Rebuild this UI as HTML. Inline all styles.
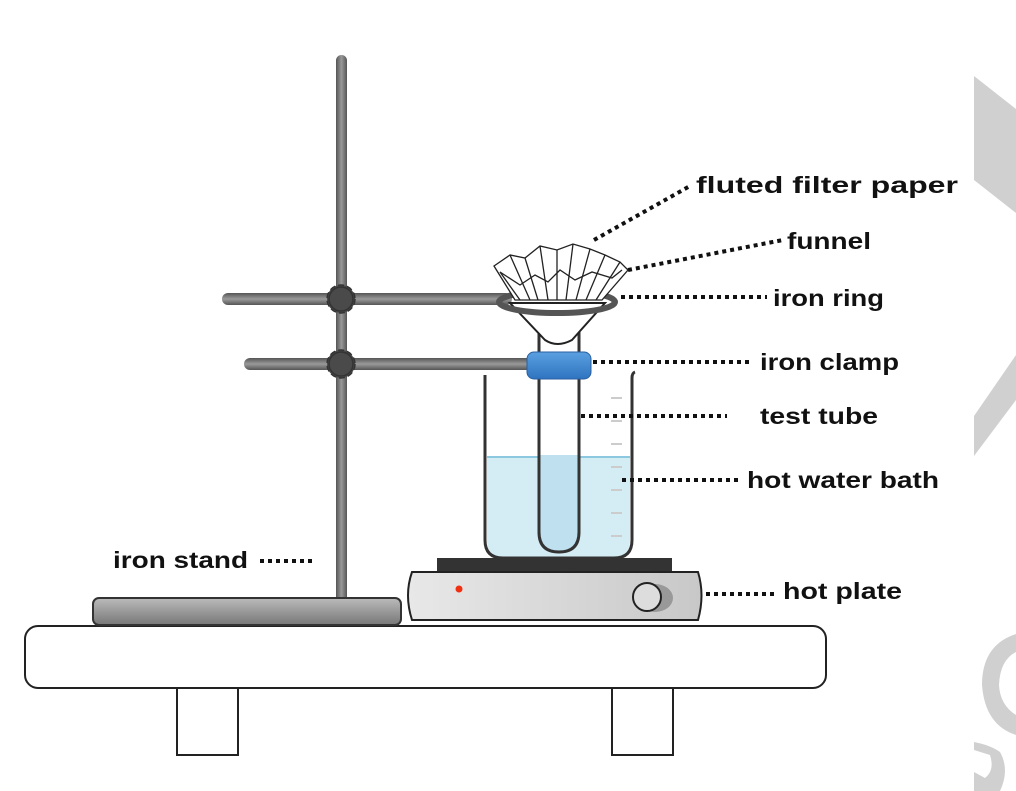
<!DOCTYPE html>
<html><head><style>body{margin:0;background:#fff}svg{display:block}text{font-family:"Liberation Sans",sans-serif;font-weight:bold;font-size:23px;fill:#111}</style></head>
<body>
<svg width="1016" height="791" viewBox="0 0 1016 791" xmlns="http://www.w3.org/2000/svg">
<defs>
<linearGradient id="rodv" x1="0" x2="1" y1="0" y2="0"><stop offset="0" stop-color="#555"/><stop offset="0.5" stop-color="#999"/><stop offset="1" stop-color="#555"/></linearGradient>
<linearGradient id="rodh" x1="0" x2="0" y1="0" y2="1"><stop offset="0" stop-color="#555"/><stop offset="0.5" stop-color="#9a9a9a"/><stop offset="1" stop-color="#555"/></linearGradient>
<linearGradient id="hp" x1="0" x2="1"><stop offset="0" stop-color="#e8e8e8"/><stop offset="1" stop-color="#c8c8c8"/></linearGradient>
<linearGradient id="base" x1="0" x2="0" y1="0" y2="1"><stop offset="0" stop-color="#bbb"/><stop offset="1" stop-color="#777"/></linearGradient>
<linearGradient id="blue" x1="0" x2="0" y1="0" y2="1"><stop offset="0" stop-color="#5aa0e0"/><stop offset="1" stop-color="#2f74c0"/></linearGradient>
</defs>
<!-- watermark -->
<g fill="#d0d0d0">
<polygon points="974,76 1016,109 1016,213 974,180"/>
<polygon points="974,416 1016,355 1016,400 974,456"/>
<path d="M1016,634 Q982,645 982,685 Q985,725 1016,735 L1016,715 Q1000,705 999,685 Q1000,660 1016,652 Z"/>
<path d="M974,750 L990,755 Q995,770 985,778 L974,772 L974,791 L1000,791 Q1010,770 1000,752 Q990,745 974,742 Z"/>
</g>
<!-- table -->
<rect x="177" y="686" width="61" height="69" fill="#fff" stroke="#222" stroke-width="2"/>
<rect x="612" y="686" width="61" height="69" fill="#fff" stroke="#222" stroke-width="2"/>
<rect x="25" y="626" width="801" height="62" rx="13" fill="#fff" stroke="#222" stroke-width="2"/>
<!-- stand -->
<rect x="336" y="55" width="11" height="550" rx="5.5" fill="url(#rodv)"/>
<rect x="93" y="598" width="308" height="27" rx="6" fill="url(#base)" stroke="#333" stroke-width="2"/>
<rect x="222" y="293" width="290" height="12" rx="6" fill="url(#rodh)"/>
<rect x="244" y="358" width="290" height="12" rx="6" fill="url(#rodh)"/>
<g fill="#4a4a4a" stroke="#333" stroke-width="1.5">
<circle cx="341" cy="299" r="14" stroke-dasharray="6 3"/><circle cx="341" cy="299" r="12"/>
<circle cx="341" cy="364" r="14" stroke-dasharray="6 3"/><circle cx="341" cy="364" r="12"/>
</g>
<!-- hot plate -->
<rect x="437" y="558" width="235" height="14" fill="#333"/>
<path d="M412,572 Q404,595 412,620 L698,620 Q705,595 698,572 Z" fill="url(#hp)" stroke="#222" stroke-width="2"/>
<circle cx="459" cy="589" r="3.5" fill="#f03010"/>
<ellipse cx="655" cy="598" rx="18" ry="14" fill="#999"/>
<circle cx="647" cy="597" r="14" fill="#ddd" stroke="#222" stroke-width="2"/>
<!-- beaker -->
<path d="M487,457 L630,457 L630,540 Q630,557 613,557 L504,557 Q487,557 487,540 Z" fill="#d4ecf3"/>
<line x1="487" y1="457" x2="630" y2="457" stroke="#8cc8e0" stroke-width="2"/>
<path d="M485,375 L485,540 Q485,558 503,558 L614,558 Q632,558 632,540 L632,378 Q632,373 635,372" fill="none" stroke="#333" stroke-width="3"/>
<g stroke="#ccc" stroke-width="2"><line x1="611" y1="398" x2="622" y2="398"/><line x1="611" y1="421" x2="622" y2="421"/><line x1="611" y1="444" x2="622" y2="444"/><line x1="611" y1="467" x2="622" y2="467"/><line x1="611" y1="490" x2="622" y2="490"/><line x1="611" y1="513" x2="622" y2="513"/><line x1="611" y1="536" x2="622" y2="536"/></g>
<!-- test tube -->
<path d="M540,455 L578,455 L578,532 Q578,551 559,551 Q540,551 540,532 Z" fill="#bfe0ee"/>
<path d="M539,320 L539,532 Q539,552 559,552 Q579,552 579,532 L579,320" fill="none" stroke="#333" stroke-width="3"/>
<!-- funnel -->
<path d="M510,303 L605,303 L572,340 Q557,348 545,340 Z" fill="#fff" stroke="#222" stroke-width="2"/>
<ellipse cx="557" cy="302" rx="58" ry="11" fill="none" stroke="#555" stroke-width="6"/>
<rect x="527" y="352" width="64" height="27" rx="7" fill="url(#blue)" stroke="#2a5fa0" stroke-width="1"/>
<!-- filter paper -->
<g fill="#fff" stroke="#222" stroke-width="1.3">
<path d="M494,266 L510,255 L525,258 L540,246 L557,250 L573,244 L590,249 L605,255 L620,262 L628,270 L602,300 L515,300 Z"/>
<path d="M500,272 L520,285 L535,275 L548,282 L560,270 L575,280 L592,272 L612,278 L622,270" fill="none"/>
<g fill="none"><line x1="510" y1="255" x2="530" y2="300"/><line x1="525" y1="258" x2="538" y2="300"/><line x1="540" y1="246" x2="548" y2="300"/><line x1="557" y1="250" x2="557" y2="300"/><line x1="573" y1="244" x2="566" y2="300"/><line x1="590" y1="249" x2="576" y2="300"/><line x1="605" y1="255" x2="586" y2="300"/><line x1="620" y1="262" x2="596" y2="300"/><line x1="500" y1="272" x2="520" y2="300"/></g>
</g>
<!-- leaders -->
<g stroke="#111" stroke-width="4" stroke-dasharray="4 4" fill="none">
<line x1="594" y1="240" x2="690" y2="186"/>
<line x1="628" y1="270" x2="783" y2="240"/>
<line x1="621" y1="297" x2="767" y2="297"/>
<line x1="593" y1="362" x2="752" y2="362"/>
<line x1="581" y1="416" x2="727" y2="416"/>
<line x1="622" y1="480" x2="740" y2="480"/>
<line x1="706" y1="594" x2="775" y2="594"/>
<line x1="260" y1="561" x2="313" y2="561"/>
</g>
<text x="696" y="193" textLength="262" lengthAdjust="spacingAndGlyphs">fluted filter paper</text>
<text x="787" y="249" textLength="84" lengthAdjust="spacingAndGlyphs">funnel</text>
<text x="773" y="306" textLength="111" lengthAdjust="spacingAndGlyphs">iron ring</text>
<text x="760" y="370" textLength="139" lengthAdjust="spacingAndGlyphs">iron clamp</text>
<text x="760" y="424" textLength="118" lengthAdjust="spacingAndGlyphs">test tube</text>
<text x="747" y="488" textLength="192" lengthAdjust="spacingAndGlyphs">hot water bath</text>
<text x="783" y="599" textLength="119" lengthAdjust="spacingAndGlyphs">hot plate</text>
<text x="113" y="568" textLength="135" lengthAdjust="spacingAndGlyphs">iron stand</text>
</svg>
</body></html>
